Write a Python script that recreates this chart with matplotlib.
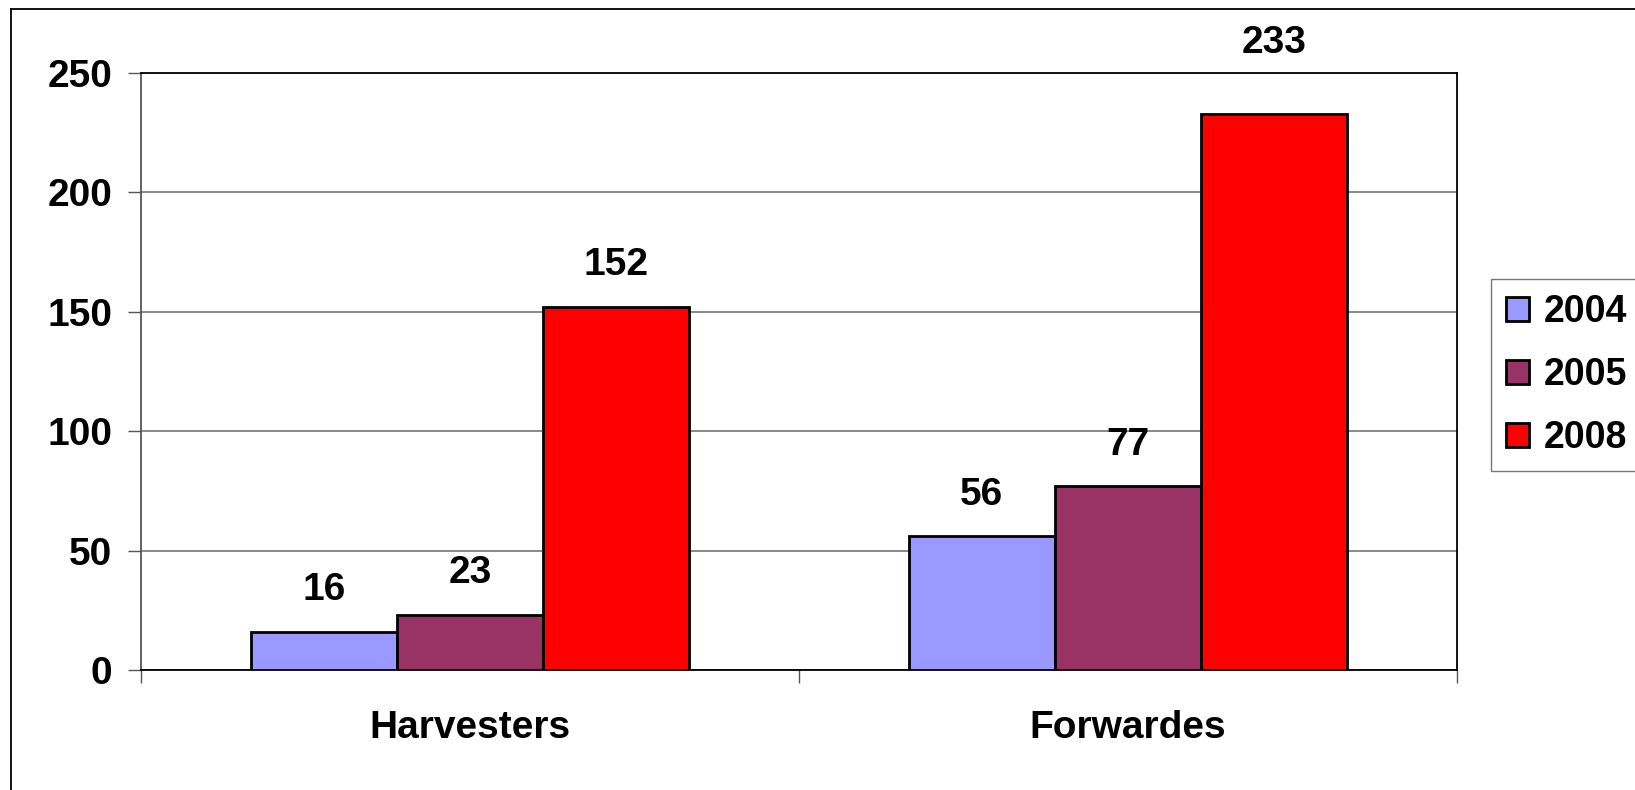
import numpy as np
from matplotlib import pyplot as plt
from matplotlib.lines import Line2D

# data
categorias = ["Harvesters", "Forwardes"]
anios = ["2004", "2005", "2008"]
valores_2004 = [16, 56]
valores_2005 = [23, 77]
valores_2008 = [152, 233]
colores = ["#9999FF", "#993366", "#FF0000"]

plt.rcParams['font.family'] = ['Liberation Sans', 'DejaVu Sans']
plt.rcParams['font.weight'] = 'bold'

fig = plt.figure(figsize=(16.35, 7.9), dpi=100)
ax = fig.add_axes([0.0862, 0.1519, 0.8049, 0.7557])

x = np.arange(len(categorias))
ancho = 0.222
series = [valores_2004, valores_2005, valores_2008]
for i, vals in enumerate(series):
    barras = ax.bar(x + (i - 1) * ancho, vals, ancho, color=colores[i],
                    edgecolor='black', linewidth=2.0, label=anios[i], zorder=3)
    for b, v in zip(barras, vals):
        # la etiqueta de 233 esta mas arriba en el original
        desp = 38 if v == max(valores_2008) else 17
        ax.annotate(str(v), (b.get_x() + b.get_width() / 2, v),
                    xytext=(0, desp), textcoords='offset points',
                    ha='center', va='bottom', fontsize=28, fontweight='bold',
                    annotation_clip=False)

ax.set_xlim(-0.5, 1.5)
ax.set_ylim(0, 250)
ax.set_yticks(range(0, 251, 50))
ax.yaxis.grid(True, color='#808080', linewidth=1.3, zorder=0)
ax.tick_params(axis='y', direction='out', length=9.5, width=1, color='#555555',
               labelsize=28, pad=11)
ax.set_xticks(x)
ax.set_xticklabels(categorias)
ax.tick_params(axis='x', which='major', length=0, labelsize=28, pad=29)
ax.set_xticks([-0.5, 0.5, 1.5], minor=True)
ax.tick_params(axis='x', which='minor', direction='out', length=9, width=1,
               color='#555555')
for lab in ax.get_xticklabels() + ax.get_yticklabels():
    lab.set_fontweight('bold')

for lado in ['top', 'right', 'bottom']:
    ax.spines[lado].set_color('black')
    ax.spines[lado].set_linewidth(1.3)
ax.spines['left'].set_color('#555555')
ax.spines['left'].set_linewidth(1.3)

ley = ax.legend(loc='upper left', bbox_to_anchor=(1.0255, 0.655), fontsize=27,
                frameon=True, fancybox=False, edgecolor='#555555',
                handlelength=0.62, handleheight=0.62, handletextpad=0.4,
                labelspacing=0.72, borderpad=0.4, borderaxespad=0)
ley.get_frame().set_linewidth(1.0)
for t in ley.get_texts():
    t.set_fontweight('bold')

# marco exterior
fig.add_artist(Line2D([11 / 1635, 11 / 1635], [0, 1 - 9 / 790],
                      transform=fig.transFigure, color='black', linewidth=1.3))
fig.add_artist(Line2D([11 / 1635, 1], [1 - 9 / 790, 1 - 9 / 790],
                      transform=fig.transFigure, color='black', linewidth=1.3))

plt.savefig("out.png", dpi=100)
